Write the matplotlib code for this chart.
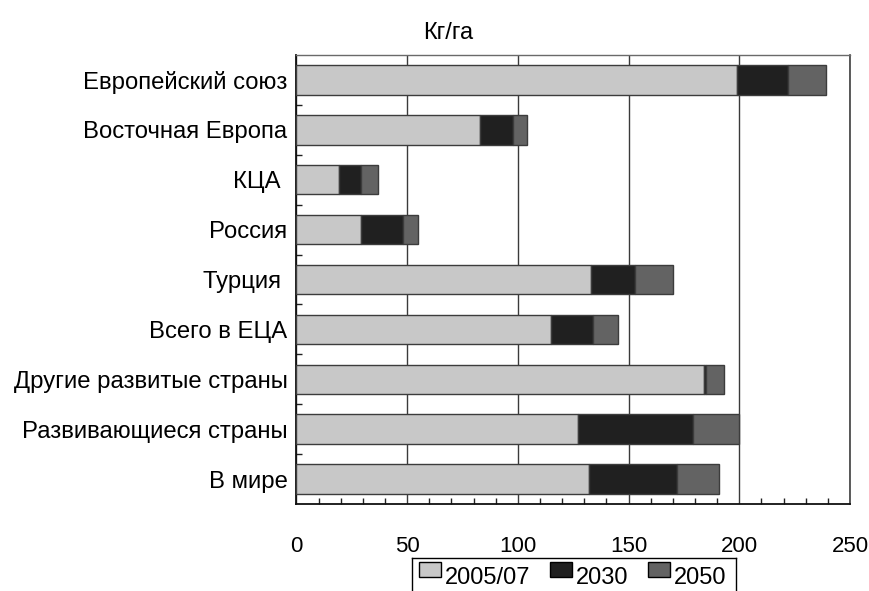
import matplotlib
matplotlib.use("Agg")
import matplotlib.pyplot as plt
from matplotlib.patches import Patch, Rectangle
from matplotlib.lines import Line2D
from matplotlib.legend_handler import HandlerPatch
from matplotlib.ticker import MultipleLocator, FixedLocator

plt.rcParams['font.family'] = ['Liberation Sans', 'DejaVu Sans']

# Regions, top to bottom
regions = [
    "Европейский союз",
    "Восточная Европа",
    "КЦА ",
    "Россия",
    "Турция ",
    "Всего в ЕЦА",
    "Другие развитые страны",
    "Развивающиеся страны",
    "В мире",
]

# Segment lengths of each stacked bar, kg/ha
seg_2005 = [199, 83, 19, 29, 133, 115, 184, 127, 132]
seg_2030 = [23, 15, 10, 19, 20, 19, 1, 52, 40]
seg_2050 = [17, 6, 8, 7, 17, 11, 8, 21, 19]

series_names = ["2005/07", "2030", "2050"]
series_colors = ["#c8c8c8", "#202020", "#636363"]

W, H = 870, 591
fig = plt.figure(figsize=(W / 100, H / 100), dpi=100)
ax = fig.add_axes([296.5 / W, 1 - 504 / H, (850 - 296.5) / W, (504 - 55) / H])

ypos = list(range(len(regions)))
left = [0] * len(regions)
for vals, color in zip([seg_2005, seg_2030, seg_2050], series_colors):
    ax.barh(ypos, vals, left=left, height=0.59, color=color,
            edgecolor="#3c3c3c", linewidth=1.0, zorder=3)
    left = [a + b for a, b in zip(left, vals)]

ax.set_xlim(0, 250)
ax.set_ylim(len(regions) - 0.5, -0.5)

ax.xaxis.set_major_locator(MultipleLocator(50))
ax.xaxis.set_minor_locator(MultipleLocator(10))
ax.grid(axis="x", which="major", color="#3a3a3a", linewidth=1.0, zorder=0)

ax.set_yticks(ypos)
ax.set_yticklabels(regions)
ax.yaxis.set_minor_locator(FixedLocator([i + 0.5 for i in range(len(regions) - 1)]))

ax.tick_params(axis="x", which="major", direction="in", length=0, pad=23,
               labelsize=16)
ax.tick_params(axis="x", which="minor", direction="in", length=4, width=1,
               color="#202020")
ax.tick_params(axis="y", which="major", length=0, pad=6.5, labelsize=17.2)
ax.tick_params(axis="y", which="minor", direction="in", length=4, width=1,
               color="#202020")

ax.spines["left"].set_color("#101010")
ax.spines["left"].set_linewidth(1.3)
ax.spines["bottom"].set_color("#101010")
ax.spines["bottom"].set_linewidth(1.3)
ax.spines["top"].set_color("#6a6a6a")
ax.spines["top"].set_linewidth(1.0)
ax.spines["right"].set_color("#404040")
ax.spines["right"].set_linewidth(1.2)

fig.text(448 / W, 1 - 33 / H, "Кг/га", ha="center", va="center", fontsize=17)


class RaisedBox(HandlerPatch):
    """Legend key drawn level with the top of the label text."""
    def create_artists(self, legend, orig_handle, xdescent, ydescent,
                       width, height, fontsize, trans):
        r = Rectangle((-xdescent, -ydescent + 0.28 * fontsize), width, height,
                      facecolor=orig_handle.get_facecolor(),
                      edgecolor="#000000", linewidth=1.0, transform=trans)
        return [r]


handles = [Patch(facecolor=c, edgecolor="#000000", linewidth=1.0)
           for c in series_colors]
leg = fig.legend(handles, series_names, loc="upper center", ncol=3,
                 bbox_to_anchor=(572.5 / W, 1 - 567 / H),
                 fontsize=17, frameon=False,
                 handlelength=0.95, handleheight=0.6, handletextpad=0.15,
                 columnspacing=0.82, borderpad=0.0, borderaxespad=0,
                 handler_map={Patch: RaisedBox()})

# Legend frame running off the lower edge of the figure
x0, x1 = 411.7 / W, 736 / W
ytop = 1 - 557.7 / H
for xs, ys in [([x0, x1], [ytop, ytop]), ([x0, x0], [ytop, -0.05]),
               ([x1, x1], [ytop, -0.05])]:
    fig.add_artist(Line2D(xs, ys, transform=fig.transFigure,
                          color="#000000", linewidth=1.0, zorder=5))

fig.savefig("out.png", dpi=100)
